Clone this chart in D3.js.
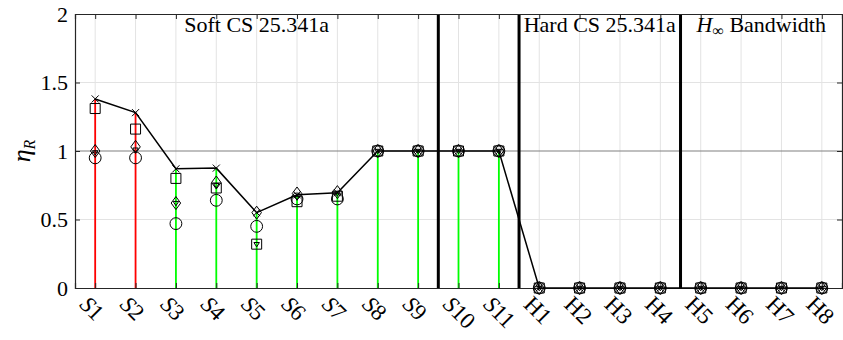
<!DOCTYPE html>
<html>
<head>
<meta charset="utf-8">
<script src="https://cdn.jsdelivr.net/npm/d3@7/dist/d3.min.js"></script>
<style>
  body { margin: 0; background: #fff; }
  svg text { font-family: 'Liberation Serif', serif; }
</style>
</head>
<body>
<div id="chart"></div>
<script>
(function(d3) {
  'use strict';

  var width = 843;
  var height = 340;
  var margin = {top: 14, right: 1, bottom: 52, left: 75};
  var serif = "'Liberation Serif', serif";

  // data
  var categories = ['S1', 'S2', 'S3', 'S4', 'S5', 'S6', 'S7', 'S8', 'S9', 'S10', 'S11',
                    'H1', 'H2', 'H3', 'H4', 'H5', 'H6', 'H7', 'H8'];
  var etaMax      = [1.38, 1.28, 0.87, 0.875, 0.55, 0.68, 0.695, 1, 1, 1, 1, 0, 0, 0, 0, 0, 0, 0, 0];
  var etaSquare   = [1.31, 1.16, 0.80, 0.73, 0.32, 0.63, 0.67, 1, 1, 1, 1, 0, 0, 0, 0, 0, 0, 0, 0];
  var etaDiamond  = [1.00, 1.03, 0.62, 0.77, 0.55, 0.69, 0.70, 1, 1, 1, 1, 0, 0, 0, 0, 0, 0, 0, 0];
  var etaCircle   = [0.95, 0.95, 0.47, 0.64, 0.45, 0.65, 0.65, 1, 1, 1, 1, 0, 0, 0, 0, 0, 0, 0, 0];
  var etaTriangle = [0.99, 1.01, 0.62, 0.75, 0.32, 0.66, 0.69, 1, 1, 1, 1, 0, 0, 0, 0, 0, 0, 0, 0];
  var yTicks = [0, 0.5, 1, 1.5, 2];
  var sectionBounds = [0.5, 9.5, 11.5, 15.5, 19.5];
  var sectionLabels = ['Soft CS 25.341a', '', 'Hard CS 25.341a', 'H∞ Bandwidth'];

  var x = d3.scaleLinear().domain([0.5, 19.5]).range([margin.left, width - margin.right]);
  var y = d3.scaleLinear().domain([0, 2]).range([height - margin.bottom, margin.top]);
  var idx = d3.range(1, categories.length + 1);

  var svg = d3.select('#chart')
    .append('svg')
    .attr('width', width)
    .attr('height', height)
    .attr('font-family', serif);

  // grid
  svg.append('g').selectAll('line')
    .data(idx)
    .enter().append('line')
    .attr('x1', function(d) { return x(d); })
    .attr('x2', function(d) { return x(d); })
    .attr('y1', y(0)).attr('y2', y(2))
    .attr('stroke', '#e3e3e3').attr('stroke-width', 1);

  svg.append('g').selectAll('line')
    .data([0.5, 1.5])
    .enter().append('line')
    .attr('x1', x(0.5)).attr('x2', x(19.5))
    .attr('y1', function(d) { return y(d); })
    .attr('y2', function(d) { return y(d); })
    .attr('stroke', '#e3e3e3').attr('stroke-width', 1);

  // reference line at 1
  svg.append('line')
    .attr('x1', x(0.5)).attr('x2', x(19.5))
    .attr('y1', y(1)).attr('y2', y(1))
    .attr('stroke', '#808080').attr('stroke-width', 1.2);

  // stems
  svg.append('g').selectAll('line')
    .data(idx)
    .enter().append('line')
    .attr('x1', function(d) { return x(d); })
    .attr('x2', function(d) { return x(d); })
    .attr('y1', y(0))
    .attr('y2', function(d) { return y(etaMax[d - 1]); })
    .attr('stroke', function(d) { return etaMax[d - 1] > 1 ? '#ff0000' : '#00ff00'; })
    .attr('stroke-width', 1.8);

  // section separators
  svg.append('g').selectAll('line')
    .data(sectionBounds.slice(1, -1))
    .enter().append('line')
    .attr('x1', function(d) { return x(d); })
    .attr('x2', function(d) { return x(d); })
    .attr('y1', y(0)).attr('y2', y(2))
    .attr('stroke', '#000').attr('stroke-width', 3);

  // axes box with inward ticks
  var axisColor = '#262626';
  var left = d3.axisLeft(y).tickValues(yTicks).tickSize(-5).tickPadding(7)
    .tickFormat(function(d) { return d; });
  var right = d3.axisRight(y).tickValues(yTicks).tickSize(-5).tickFormat('');
  var top = d3.axisTop(x).tickValues(idx).tickSize(-5).tickFormat('');
  var bottom = d3.axisBottom(x).tickValues(idx).tickSize(-5).tickFormat('');

  var gl = svg.append('g').attr('transform', 'translate(' + x(0.5) + ',0)').call(left);
  svg.append('g').attr('transform', 'translate(' + x(19.5) + ',0)').call(right);
  svg.append('g').attr('transform', 'translate(0,' + y(2) + ')').call(top);
  svg.append('g').attr('transform', 'translate(0,' + y(0) + ')').call(bottom);
  svg.selectAll('.domain').attr('stroke', axisColor).attr('stroke-width', 1.2);
  svg.selectAll('.tick line').attr('stroke', axisColor);
  gl.attr('font-family', serif).attr('font-size', 22);
  gl.selectAll('text').attr('fill', '#000');

  // x tick labels, rotated
  var xl = svg.append('g').selectAll('text')
    .data(idx)
    .enter().append('text')
    .attr('transform', function(d) {
      return 'translate(' + (x(d) - 11) + ',' + (y(0) + 12) + ') rotate(45)';
    })
    .attr('dy', '0.35em')
    .attr('font-size', 23);
  xl.append('tspan')
    .attr('font-style', function(d) { return categories[d - 1][0] === 'S' ? 'italic' : 'normal'; })
    .text(function(d) { return categories[d - 1][0]; });
  xl.append('tspan')
    .text(function(d) { return categories[d - 1].slice(1); });

  // section labels
  var sl = svg.append('g').selectAll('text')
    .data(d3.range(sectionLabels.length).filter(function(i) { return sectionLabels[i]; }))
    .enter().append('text')
    .attr('x', function(i) { return x((sectionBounds[i] + sectionBounds[i + 1]) / 2); })
    .attr('y', y(2) + 18)
    .attr('text-anchor', 'middle')
    .attr('font-size', 22);
  sl.each(function(i) {
    var t = d3.select(this);
    var s = sectionLabels[i];
    if (s.indexOf('H∞') === 0) {
      t.append('tspan').attr('font-style', 'italic').text('H');
      t.append('tspan').attr('dy', 4).attr('font-size', 16).text('∞');
      t.append('tspan').attr('dy', -4).text(' ' + s.slice(3));
    } else {
      t.text(s);
    }
  });

  // y label
  var yl = svg.append('text')
    .attr('transform', 'translate(30,' + y(1) + ') rotate(-90)')
    .attr('text-anchor', 'middle')
    .attr('font-size', 26);
  yl.append('tspan').attr('font-style', 'italic').text('η');
  yl.append('tspan').attr('dy', 5).attr('font-style', 'italic').attr('font-size', 16).text('R');

  // line through max values
  var line = d3.line()
    .x(function(d) { return x(d); })
    .y(function(d) { return y(etaMax[d - 1]); });
  svg.append('path')
    .datum(idx)
    .attr('d', line)
    .attr('fill', 'none')
    .attr('stroke', '#000')
    .attr('stroke-width', 1.5);

  // marker shapes
  var symX = { draw: function(ctx, size) { var r = Math.sqrt(size) / 2;
    ctx.moveTo(-r, -r); ctx.lineTo(r, r); ctx.moveTo(r, -r); ctx.lineTo(-r, r); } };
  var symDiamond = { draw: function(ctx, size) { var r = Math.sqrt(size) / 2;
    ctx.moveTo(0, -r * 1.3); ctx.lineTo(r * 0.95, 0); ctx.lineTo(0, r * 1.3); ctx.lineTo(-r * 0.95, 0); ctx.closePath(); } };
  var symTriDown = { draw: function(ctx, size) { var r = Math.sqrt(size) / 2;
    ctx.moveTo(-r, -r * 0.6); ctx.lineTo(r, -r * 0.6); ctx.lineTo(0, r); ctx.closePath(); } };

  var series = [
    {values: etaCircle, type: d3.symbolCircle, size: 110},
    {values: etaSquare, type: d3.symbolSquare, size: 100},
    {values: etaDiamond, type: symDiamond, size: 100},
    {values: etaTriangle, type: symTriDown, size: 30},
    {values: etaMax, type: symX, size: 50}
  ];

  series.forEach(function(s) {
    svg.append('g').selectAll('path')
      .data(idx)
      .enter().append('path')
      .attr('transform', function(d) { return 'translate(' + x(d) + ',' + y(s.values[d - 1]) + ')'; })
      .attr('d', d3.symbol().type(s.type).size(s.size))
      .attr('fill', 'none')
      .attr('stroke', '#000')
      .attr('stroke-width', 1);
  });

})(window.d3);
</script>
</body>
</html>
